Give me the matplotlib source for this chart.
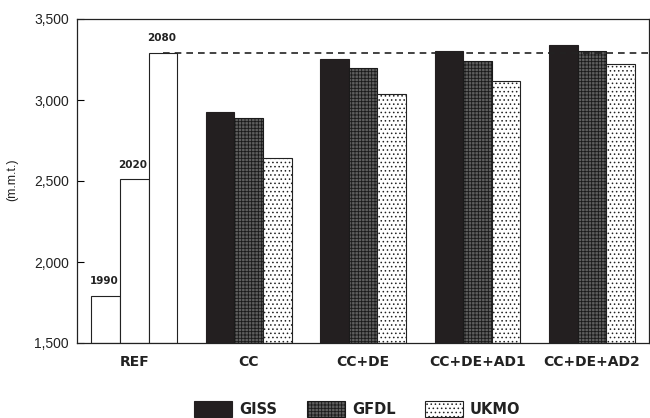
import matplotlib
matplotlib.use("Agg")
import matplotlib.pyplot as plt
import numpy as np
from matplotlib.patches import Patch

plt.rcParams['font.family'] = ['Liberation Sans', 'DejaVu Sans']
plt.rcParams['hatch.linewidth'] = 0.6

scenarios = ["REF", "CC", "CC+DE", "CC+DE+AD1", "CC+DE+AD2"]
ref_years = ["1990", "2020", "2080"]
ref_values = [1790, 2510, 3290]
models = ["GISS", "GFDL", "UKMO"]
giss = [2925, 3255, 3300, 3340]
gfdl = [2890, 3200, 3240, 3300]
ukmo = [2645, 3040, 3120, 3220]
ref_line = 3290
yticks = [1500, 2000, 2500, 3000, 3500]
ytick_labels = ["1,500", "2,000", "2,500", "3,000", "3,500"]

BOLD = ['DejaVu Sans']

fig = plt.figure(figsize=(6.5, 4.18), dpi=100)
ax = fig.add_axes([77/650, 1-343/418, (649-77)/650, (343-19)/418])

w = 0.25
offsets = np.array([-w, 0, w])

# REF bars
ref_x = 0 + offsets
ax.bar(ref_x, np.array(ref_values) - 1500, bottom=1500, width=w,
       facecolor="white", edgecolor="#222", linewidth=0.8, zorder=2)
for xx, v, lab in zip(ref_x, ref_values, ref_years):
    ax.text(xx - 0.01, v + 60, lab, ha="center", va="bottom",
            fontsize=7.5, fontweight="bold", color="#222", family=BOLD)

# Model bars
gx = np.arange(1, len(scenarios))
styles = [
    dict(facecolor="#231f20", edgecolor="#231f20", hatch=None),
    dict(facecolor="#5e5e5e", edgecolor="#1a1a1a", hatch="+++++"),
    dict(facecolor="white", edgecolor="#222", hatch="...."),
]
for i, (vals, st) in enumerate(zip([giss, gfdl, ukmo], styles)):
    ax.bar(gx + offsets[i], np.array(vals) - 1500, bottom=1500, width=w,
           facecolor=st["facecolor"], edgecolor=st["edgecolor"],
           hatch=st["hatch"], linewidth=0.8, zorder=2)

# dashed reference line
ax.plot([ref_x[2], 4.5], [ref_line, ref_line], ls=(0, (4, 3)), color="#222",
        lw=1.2, zorder=3)

ax.set_xlim(-0.5, 4.5)
ax.set_ylim(1500, 3500)
ax.set_yticks(yticks)
ax.set_yticklabels(ytick_labels, fontsize=10, color="#222")
ax.tick_params(axis="y", direction="in", length=5, width=0.8, pad=6)
ax.set_xticks(range(len(scenarios)))
ax.set_xticklabels(scenarios, fontsize=10, fontweight="bold", color="#222",
                   family=BOLD)
ax.tick_params(axis="x", length=0, pad=9)
for s in ax.spines.values():
    s.set_linewidth(0.9)
    s.set_color("#222")

fig.text(12/650, 1-180/418, "(m.m.t.)", rotation=90, ha="center", va="center",
         fontsize=9, color="#222")

handles = [Patch(facecolor=st["facecolor"], edgecolor=st["edgecolor"],
                 hatch=st["hatch"], linewidth=0.8) for st in styles]
leg = fig.legend(handles, models, loc="center", bbox_to_anchor=(0.55, 1-409/418),
                 ncol=3, frameon=False,
                 prop=dict(weight="bold", size=10.5, family=BOLD),
                 handlelength=2.6, handleheight=1.3, columnspacing=2.0,
                 handletextpad=0.5)
for t in leg.get_texts():
    t.set_color("#222")

fig.savefig("out.png", dpi=100)
